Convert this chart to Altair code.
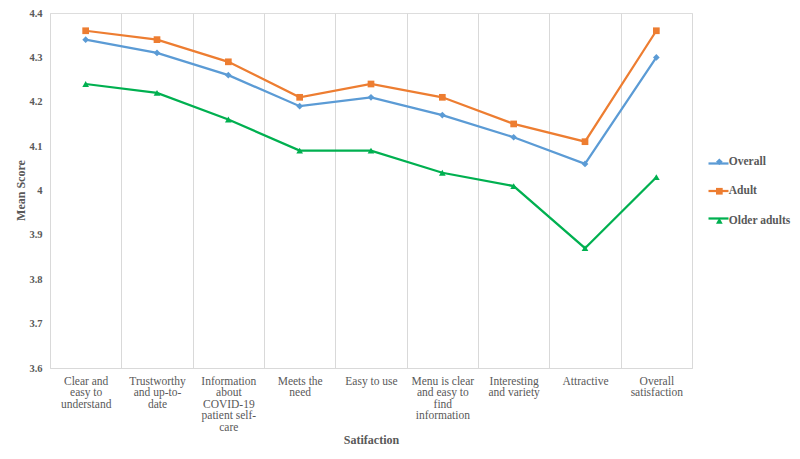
import altair as alt
import pandas as pd

categories = [
    "Clear and|easy to|understand",
    "Trustworthy|and up-to-|date",
    "Information|about|COVID-19|patient self-|care",
    "Meets the|need",
    "Easy to use",
    "Menu is clear|and easy to|find|information",
    "Interesting|and variety",
    "Attractive",
    "Overall|satisfaction",
]
series_names = ["Overall", "Adult", "Older adults"]
overall = [4.34, 4.31, 4.26, 4.19, 4.21, 4.17, 4.12, 4.06, 4.30]
adult = [4.36, 4.34, 4.29, 4.21, 4.24, 4.21, 4.15, 4.11, 4.36]
older_adults = [4.24, 4.22, 4.16, 4.09, 4.09, 4.04, 4.01, 3.87, 4.03]
y_ticks = [3.6, 3.7, 3.8, 3.9, 4.0, 4.1, 4.2, 4.3, 4.4]

colors = ["#5B9BD5", "#ED7D31", "#00B050"]
shapes = ["diamond", "square", "triangle-up"]

rows = []
for i, (name, vals) in enumerate(zip(series_names, [overall, adult, older_adults])):
    for c, v in zip(categories, vals):
        rows.append({"cat": c, "series": name, "series_line": f"{i}", "val": v})
df = pd.DataFrame(rows)

FONT = "Liberation Serif"
GRAY = "#595959"

x_enc = alt.X(
    "cat:N",
    sort=categories,
    scale=alt.Scale(type="band", paddingInner=0, paddingOuter=0),
    axis=alt.Axis(
        title="Satifaction",
        titleFont=FONT,
        titleFontSize=12,
        titleFontWeight="bold",
        titleColor=GRAY,
        titleY=71,
        titleBaseline="middle",
        labelFont=FONT,
        labelFontSize=11.5,
        labelColor=GRAY,
        labelAngle=0,
        labelBaseline="top",
        labelPadding=7,
        labelLineHeight=11.5,
        labelExpr="split(datum.label, '|')",
        labelLimit=0,
        ticks=False,
        tickBand="extent",
        grid=True,
        gridColor="#d9d9d9",
        gridWidth=1,
        domainColor="#d9d9d9",
        domainWidth=1,
    ),
)
y_enc = alt.Y(
    "val:Q",
    scale=alt.Scale(domain=[3.6, 4.4], nice=False, zero=False),
    axis=alt.Axis(
        title="Mean Score",
        titleFont=FONT,
        titleFontSize=12,
        titleFontWeight="bold",
        titleColor=GRAY,
        titleX=-30,
        titleY=177,
        titleAngle=-90,
        titleBaseline="middle",
        titleAlign="center",
        values=y_ticks,
        format="~g",
        labelFont=FONT,
        labelFontSize=10.5,
        labelFontWeight="bold",
        labelColor=GRAY,
        labelPadding=8,
        ticks=False,
        domain=False,
        grid=False,
    ),
)

lines = alt.Chart(df).mark_line(strokeWidth=2.25).encode(
    x=x_enc,
    y=y_enc,
    stroke=alt.Stroke(
        "series_line:N",
        scale=alt.Scale(range=colors),
        legend=alt.Legend(
            title=None,
            orient="none",
            legendX=657,
            legendY=139,
            symbolType="stroke",
            symbolSize=400,
            symbolStrokeWidth=2.25,
            labelExpr="''",
            labelFontSize=1,
            rowPadding=11.5,
        ),
    ),
)

point_legend = alt.Legend(
    title=None,
    orient="none",
    legendX=663.6,
    legendY=143,
    labelFont=FONT,
    labelFontSize=11.5,
    labelFontWeight="bold",
    labelColor=GRAY,
    labelOffset=3.7,
    rowPadding=16.5,
    symbolSize=45,
    symbolStrokeWidth=0,
)

points = alt.Chart(df).mark_point(filled=True, size=45, opacity=1).encode(
    x=x_enc,
    y=y_enc,
    fill=alt.Fill(
        "series:N",
        sort=series_names,
        scale=alt.Scale(domain=series_names, range=colors),
        legend=point_legend,
    ),
    shape=alt.Shape(
        "series:N",
        sort=series_names,
        scale=alt.Scale(domain=series_names, range=shapes),
        legend=point_legend,
    ),
)

chart = (
    alt.layer(lines, points)
    .properties(
        width=642,
        height=355,
        autosize=alt.AutoSizeParams(type="none"),
        padding={"left": 42, "top": 5, "right": 100, "bottom": 80},
    )
    .configure_view(stroke=None)
    .configure(background="white", font=FONT)
)

chart.save("out.html", embed_options={"renderer": "svg", "actions": False})
